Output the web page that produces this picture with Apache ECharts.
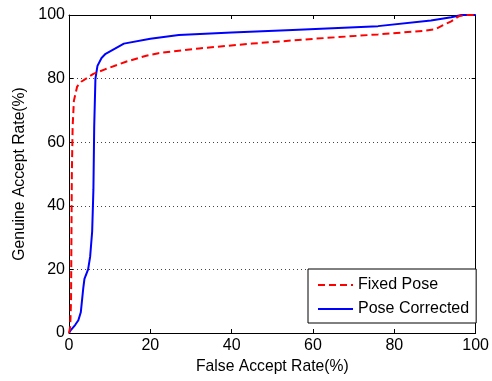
<!DOCTYPE html>
<html><head><meta charset="utf-8">
<script src="https://cdn.jsdelivr.net/npm/echarts@6/dist/echarts.min.js"></script>
<style>html,body{margin:0;padding:0;background:#fff}#c{width:492px;height:381px}</style>
</head><body><div id="c"></div>
<script>
var xTicks = [0, 20, 40, 60, 80, 100];
var yTicks = [0, 20, 40, 60, 80, 100];
var seriesNames = ['Fixed Pose', 'Pose Corrected'];
var fixedPose = [[0,0],[0.3,2],[0.5,10],[0.6,30],[0.7,50],[0.9,65],[1.2,73],[2,77.5],[3,79],[6,81.5],[9,83],[14,85.3],[19,87.2],[22,88],[32,89.5],[45,91],[60,92.5],[76,93.9],[87,95],[90,95.5],[92,96.8],[94,98],[96,99.7],[97.5,100],[100,100]];
var poseCorrected = [[0,0],[0.5,1],[1.5,2.5],[2.3,4],[2.9,6.5],[3.5,14],[3.8,17],[4.7,20],[5.2,24],[5.7,32],[6,45],[6.2,65],[6.5,80],[7,84],[8,86.5],[9,87.8],[13.5,91],[20,92.5],[27,93.7],[40,94.5],[55,95.3],[76,96.5],[89,98.3],[94,99.3],[96.5,100],[100,100]];

var font = '"Liberation Sans", Arial, sans-serif';
var chart = echarts.init(document.getElementById('c'), null, {renderer: 'canvas'});
var axisCommon = {
  min: 0, max: 100, interval: 20,
  axisLine: {show: true, onZero: false, lineStyle: {color: '#000', width: 1}},
  axisTick: {show: true, inside: true, length: 4, lineStyle: {color: '#000'}},
};
chart.setOption({
  animation: false,
  textStyle: {fontFamily: font},
  grid: {left: 69, right: 15, top: 15, bottom: 48, containLabel: false},
  xAxis: [
    Object.assign({}, axisCommon, {
      type: 'value', position: 'bottom',
      name: 'False Accept Rate(%)', nameLocation: 'middle', nameGap: 17,
      nameTextStyle: {fontSize: 15.7, color: '#000', fontFamily: font},
      axisLabel: {fontSize: 16, color: '#000', margin: 5, fontFamily: font},
      splitLine: {show: false}
    }),
    Object.assign({}, axisCommon, {
      type: 'value', position: 'top',
      axisLabel: {show: false}, splitLine: {show: false}
    })
  ],
  yAxis: [
    Object.assign({}, axisCommon, {
      type: 'value', position: 'left',
      name: 'Genuine Accept Rate(%)', nameLocation: 'middle', nameGap: 33,
      nameTextStyle: {fontSize: 15.7, color: '#000', fontFamily: font},
      axisLabel: {fontSize: 16, color: '#000', margin: 4, fontFamily: font},
      splitLine: {show: true, lineStyle: {color: '#444', type: [1, 3], width: 1}}
    }),
    Object.assign({}, axisCommon, {
      type: 'value', position: 'right',
      axisLabel: {show: false}, splitLine: {show: false}
    })
  ],
  legend: {
    orient: 'vertical', left: 308, top: 269,
    data: seriesNames,
    itemWidth: 35, itemHeight: 16, itemGap: 8, itemTextGap: 5,
    padding: [8, 7, 6, 9],
    borderColor: '#000', borderWidth: 1, backgroundColor: '#fff',
    itemStyle: {color: 'rgba(0,0,0,0)', borderWidth: 0, opacity: 0},
    textStyle: {fontSize: 16, color: '#000', fontFamily: font}
  },
  series: [
    {name: seriesNames[0], type: 'line', data: fixedPose, showSymbol: false, symbol: 'none',
     lineStyle: {color: '#ff0000', width: 2, type: [7, 4]}, itemStyle: {color: '#ff0000'}, z: 3},
    {name: seriesNames[1], type: 'line', data: poseCorrected, showSymbol: false, symbol: 'none',
     lineStyle: {color: '#0000ff', width: 2}, itemStyle: {color: '#0000ff'}, z: 2}
  ]
});
</script></body></html>
